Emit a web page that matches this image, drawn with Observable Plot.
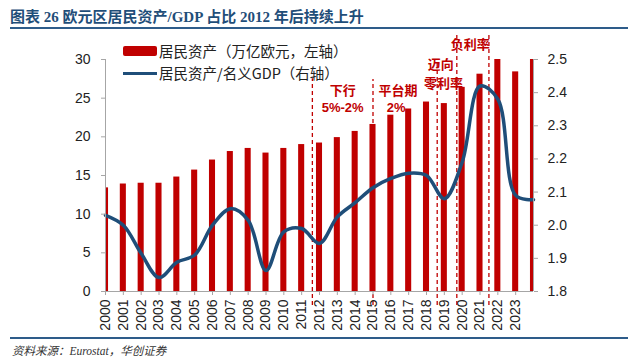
<!DOCTYPE html>
<html>
<head>
<meta charset="utf-8">
<script src="https://cdn.jsdelivr.net/npm/d3@7"></script>
<script src="https://cdn.jsdelivr.net/npm/@observablehq/plot@0.6"></script>
<style>
  html, body { margin: 0; padding: 0; background: #fff; }
  #wrap { position: relative; width: 640px; height: 358px; overflow: hidden; background: #fff; }
  #title { position: absolute; left: 10px; top: 5px; font: bold 15px "Liberation Serif", "Noto Sans CJK SC", serif; color: #1F4E79; white-space: nowrap; }
  #titleLine { position: absolute; left: 10px; top: 27px; width: 618px; height: 2px; background: #2E5C8A; }
  #chart { position: absolute; left: 0; top: 30px; }
  #legend { position: absolute; left: 123px; top: 40px; font: 14.5px "Noto Sans CJK SC", sans-serif; color: #222; }
  .lg { display: flex; align-items: center; height: 22px; line-height: 20px; white-space: nowrap; }
  .sw1 { width: 34px; height: 10px; background: #C00000; border-radius: 2px; margin-right: 2px; }
  .sw2 { width: 34px; height: 3px; background: #1F4E79; margin-right: 2px; }
  #capLine { position: absolute; left: 10px; top: 337px; width: 618px; height: 1.5px; background: #2E5C8A; }
  #caption { position: absolute; left: 12px; top: 342px; font: italic 11.5px "Noto Sans CJK SC", "Liberation Serif", serif; color: #333; white-space: nowrap; }
</style>
</head>
<body>
<div id="wrap">
  <div id="title">图表 26 欧元区居民资产/GDP 占比 2012 年后持续上升</div>
  <div id="titleLine"></div>
  <div id="chart"></div>
  <div id="legend">
    <div class="lg"><div class="sw1"></div>居民资产（万亿欧元，左轴）</div>
    <div class="lg"><div class="sw2"></div>居民资产/名义GDP（右轴）</div>
  </div>
  <div id="capLine"></div>
  <div id="caption">资料来源：<span style="font-family:'Liberation Serif',serif">Eurostat</span>，华创证券</div>
</div>
<script>
// ---- data ----
const years = [2000,2001,2002,2003,2004,2005,2006,2007,2008,2009,2010,2011,2012,2013,2014,2015,2016,2017,2018,2019,2020,2021,2022,2023,2024];
const assets = [13.4,13.9,14.0,14.0,14.8,15.7,17.0,18.1,18.5,17.9,18.5,19.0,19.2,19.9,20.7,21.6,22.8,23.6,24.5,24.3,26.4,28.1,30.0,28.4,30.0];
const ratio = [2.03,2.00,1.915,1.842,1.888,1.91,2.00,2.05,2.015,1.863,1.98,1.99,1.945,2.025,2.068,2.113,2.141,2.157,2.15,2.08,2.19,2.42,2.38,2.09,2.077];
const xTickYears = [2000,2001,2002,2003,2004,2005,2006,2007,2008,2009,2010,2011,2012,2013,2014,2015,2016,2017,2018,2019,2020,2021,2022,2023];
const leftTicks = [0,5,10,15,20,25,30];
const rightTicks = [1.8,1.9,2.0,2.1,2.2,2.3,2.4,2.5];
const phaseYears = [2011.6, 2015.0, 2018.6, 2019.7, 2021.5];
const phaseTops = [27.5, 27.4, 30.0, 33.2, 33.2];
const noteText = ["下行", "5%-2%", "平台期", "2%", "迈向", "零利率", "负利率"];
const noteYear = [2013.3, 2013.3, 2016.4, 2016.3, 2018.8, 2018.95, 2020.45];
const noteY = [25.9, 23.7, 25.9, 23.7, 29.3, 26.9, 31.9];

// ---- derived ----
const rMin = 1.8, rMax = 2.5, lMax = 30;
const toLeft = v => (v - rMin) / (rMax - rMin) * lMax;
const fromLeft = v => rMin + v / lMax * (rMax - rMin);
const rows = years.map((y, i) => ({year: y, asset: assets[i], ratio: ratio[i]}));
const phases = phaseYears.map((x, i) => ({x, top: phaseTops[i]}));
const notes = noteText.map((t, i) => ({t, x: noteYear[i], y: noteY[i], latin: /%/.test(t)}));

const axisGray = "#A6A6A6";
const red = "#C00000";

const chart = Plot.plot({
  width: 640,
  height: 306,
  marginTop: 29,
  marginBottom: 45,
  marginLeft: 105,
  marginRight: 107,
  x: {type: "linear", domain: [2000, 2024]},
  y: {domain: [0, 30]},
  style: {fontFamily: "'Liberation Sans', Arial, sans-serif", fontSize: "14px", color: "#222", background: "transparent", overflow: "visible"},
  marks: [
    Plot.rectY(rows, {x1: d => d.year - 0.17, x2: d => d.year + 0.17, y1: 0, y2: "asset", fill: red, clip: true}),
    Plot.ruleX(phases, {x: "x", y1: -1.8, y2: "top", stroke: red, strokeWidth: 1.3, strokeDasharray: "4,3"}),
    Plot.line(rows, {x: "year", y: d => toLeft(d.ratio), curve: "catmull-rom", stroke: "#1F4E79", strokeWidth: 3.5}),
    Plot.ruleY([0], {stroke: axisGray}),
    Plot.ruleX([2000, 2024], {stroke: axisGray}),
    Plot.axisY(leftTicks, {anchor: "left", tickSize: 4, tickPadding: 11, stroke: axisGray, fill: "#222", label: null}),
    Plot.axisY(rightTicks.map(toLeft), {anchor: "right", tickSize: 4, tickPadding: 10, stroke: axisGray, fill: "#222", tickFormat: d => fromLeft(d).toFixed(1), label: null}),
    Plot.axisX(xTickYears, {anchor: "bottom", tickSize: 4, tickPadding: 4, tickRotate: -90, stroke: axisGray, fill: "#222", tickFormat: d => String(d), label: null}),
    Plot.text(notes.filter(d => !d.latin), {x: "x", y: "y", text: "t", fill: red, fontWeight: "bold", fontSize: 13, fontFamily: "'Noto Sans CJK SC', sans-serif"}),
    Plot.text(notes.filter(d => d.latin), {x: "x", y: "y", text: "t", fill: red, fontWeight: "bold", fontSize: 13, fontFamily: "'Liberation Sans', Arial, sans-serif"})
  ]
});
document.getElementById("chart").appendChild(chart);
</script>
</body>
</html>
